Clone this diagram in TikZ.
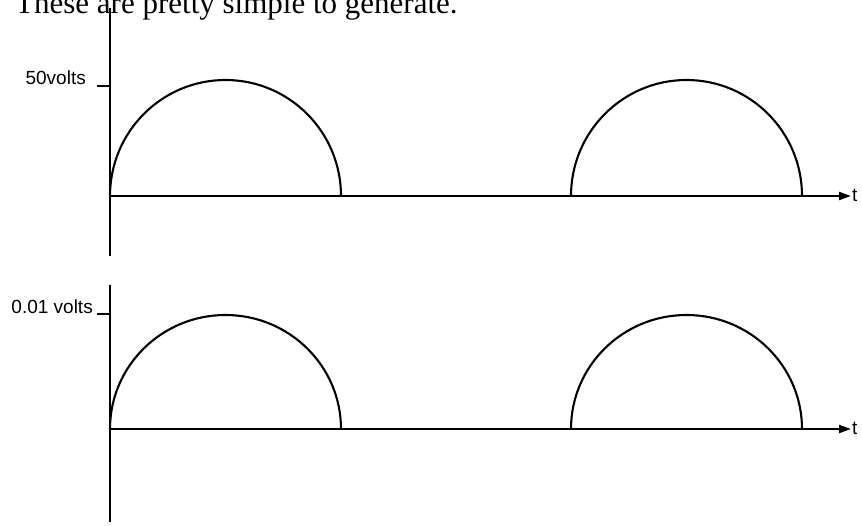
\documentclass[tikz,border=0pt]{standalone}
\usepackage{fontspec}
\setmainfont{Liberation Serif}
\newfontfamily\arialfont{Liberation Sans}
\usetikzlibrary{arrows.meta}
\begin{document}
\begin{tikzpicture}[x=1pt,y=-1pt,
  ax/.style={line width=2.1pt},
  wave/.style={line width=2.1pt},
  lbl/.style={font=\arialfont\fontsize{19}{19}\selectfont, inner sep=0pt},
  arr/.style={line width=2.1pt,-{Triangle[length=12pt,width=8pt]}}]
\useasboundingbox (0,0) rectangle (862,525);
\begin{scope}
\clip (0,0) rectangle (862,525);
\node[anchor=base west, inner sep=0pt, font=\fontsize{31}{31}\selectfont] (title) at (15,13) {These are pretty simple to generate.};
\end{scope}
% top plot
\coordinate (ytop1) at (110,8);
\coordinate (ybot1) at (110,256);
\coordinate (o1) at (110,196);
\coordinate (e1) at (851,196);
\draw[ax] (ytop1) -- (ybot1);
\draw[arr] (o1) -- (e1);
\draw[ax] (97,86) -- (110,86);
\node[lbl, anchor=base east] (l1) at (86,84) {50volts};
\node[lbl, anchor=west] (t1) at (852,195) {t};
\draw[wave] (110,196) arc[start angle=180, end angle=0, x radius=115.5, y radius=-116];
\draw[wave] (571,196) arc[start angle=180, end angle=0, x radius=115.5, y radius=-116];
% bottom plot
\coordinate (ytop2) at (110,285);
\coordinate (ybot2) at (110,522);
\coordinate (o2) at (110,429);
\coordinate (e2) at (851,429);
\draw[ax] (ytop2) -- (ybot2);
\draw[arr] (o2) -- (e2);
\draw[ax] (97,314) -- (110,314);
\node[lbl, anchor=base east] (l2) at (93,313) {0.01 volts};
\node[lbl, anchor=west] (t2) at (852,428) {t};
\draw[wave] (110,429) arc[start angle=180, end angle=0, x radius=115.5, y radius=-114];
\draw[wave] (571,429) arc[start angle=180, end angle=0, x radius=115.5, y radius=-114];
\end{tikzpicture}
\end{document}
